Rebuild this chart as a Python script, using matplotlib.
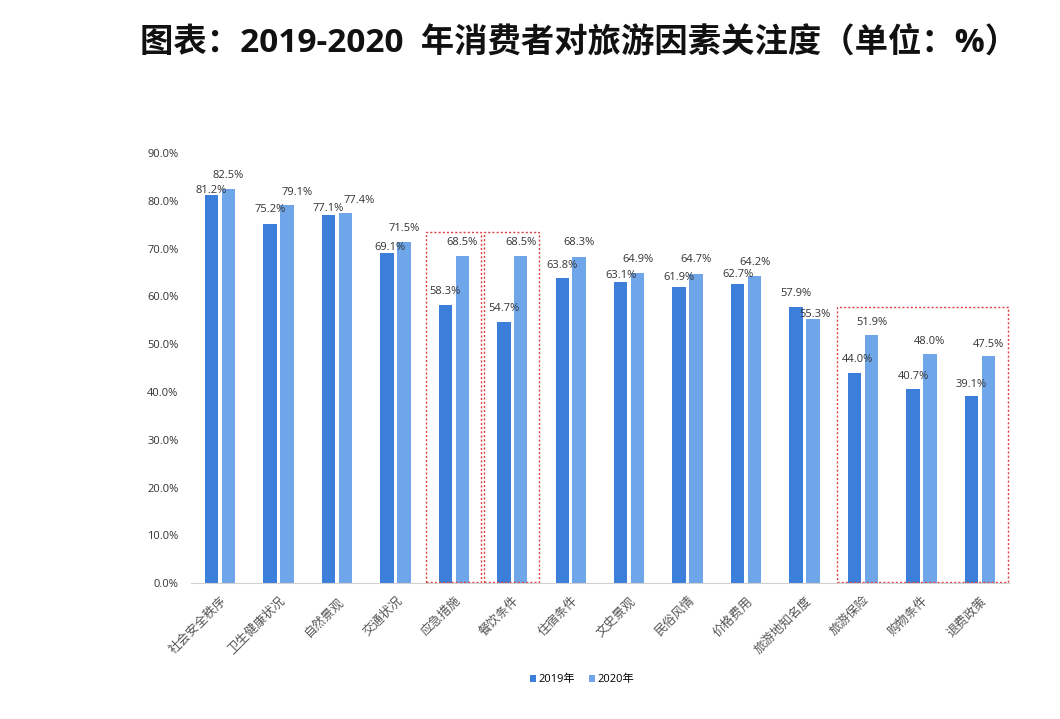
import matplotlib
matplotlib.use("Agg")
import matplotlib.pyplot as plt
from matplotlib.patches import Rectangle
import numpy as np

plt.rcParams['font.family'] = ['Open Sans', 'Noto Sans CJK SC', 'DejaVu Sans']

categories = ["社会安全秩序", "卫生健康状况", "自然景观", "交通状况", "应急措施", "餐饮条件",
              "住宿条件", "文史景观", "民俗风情", "价格费用", "旅游地知名度", "旅游保险",
              "购物条件", "退费政策"]
v2019 = [81.2, 75.2, 77.1, 69.1, 58.3, 54.7, 63.8, 63.1, 61.9, 62.7, 57.9, 44.0, 40.7, 39.1]
v2020 = [82.5, 79.1, 77.4, 71.5, 68.5, 68.5, 68.3, 64.9, 64.7, 64.2, 55.3, 51.9, 48.0, 47.5]
series_names = ["2019年", "2020年"]
yticks = [0, 10, 20, 30, 40, 50, 60, 70, 80, 90]

# label placement style (pixel offsets above bar tops)
lab_dy_2019 = [5, 14, 6.5, 5, 13, 13, 13, 6, 10, 9, 13, 13, 12, 12]
lab_dy_2020 = [13, 13, 13, 13, 13, 13, 14, 14, 15, 14, 4, 13, 12, 12]
lab_dx_2019 = [0, 0, 0, 3, 0, 0, 0, 0, 0, 0, 0, 3, 0, 0]
lab_dx_2020 = [0, 10, 14, 0, 0, 0, 0, 0, 0, 0, 2, 0, 0, 0]

c1 = "#3b7fdb"
c2 = "#6fa6ea"

fig = plt.figure(figsize=(10.6, 7.19), dpi=100)
ax = fig.add_axes([0.180, 0.189, 0.772, 0.598])

x = np.arange(len(categories))
w = 0.23
off = 0.145
b1 = ax.bar(x - off, v2019, w, color=c1, label=series_names[0])
b2 = ax.bar(x + off, v2020, w, color=c2, label=series_names[1])

for xi, v, dx, dy in zip(x, v2019, lab_dx_2019, lab_dy_2019):
    ax.annotate(f"{v:.1f}%", (xi - off, v), xytext=(dx, dy), textcoords="offset pixels",
                ha="center", va="center", fontsize=8, color="#333333")
for xi, v, dx, dy in zip(x, v2020, lab_dx_2020, lab_dy_2020):
    ax.annotate(f"{v:.1f}%", (xi + off, v), xytext=(dx, dy), textcoords="offset pixels",
                ha="center", va="center", fontsize=8, color="#333333")

ax.set_xlim(-0.5, len(categories) - 0.5)
ax.set_ylim(0, 90)
ax.set_yticks(yticks)
ax.set_yticklabels([f"{t:.1f}%" for t in yticks], fontsize=8, color="#333333")
ax.tick_params(axis="y", length=0, pad=9)
ax.set_xticks(x)
ax.set_xticklabels(categories, rotation=45, ha="right", rotation_mode="anchor",
                   fontsize=9, color="#555555", family=['Noto Sans CJK SC'])
ax.tick_params(axis="x", length=0, pad=8)
for s in ["top", "right", "left"]:
    ax.spines[s].set_visible(False)
ax.spines["bottom"].set_color("#d0d0d0")

# red dashed highlight boxes
boxes = [(3.52, 4.46, 73.4), (4.51, 5.45, 73.4), (10.55, 13.48, 57.9)]
for x0, x1, top in boxes:
    ax.add_patch(Rectangle((x0, 0.2), x1 - x0, top - 0.2, fill=False, edgecolor="#e04040",
                           linestyle=(0, (1.5, 1.5)), linewidth=1.0, clip_on=False))

fig.legend(handles=[b1, b2], labels=series_names, loc="center", bbox_to_anchor=(0.549, 0.055),
           ncol=2, frameon=False, fontsize=8, handlelength=0.6, handleheight=0.6,
           columnspacing=1.2, handletextpad=0.2)

fig.text(0.132, 0.939, "图表：2019-2020  年消费者对旅游因素关注度（单位：%）", fontsize=24,
         fontweight="bold", ha="left", va="center", color="#111111")

fig.savefig("out.png", dpi=100)
